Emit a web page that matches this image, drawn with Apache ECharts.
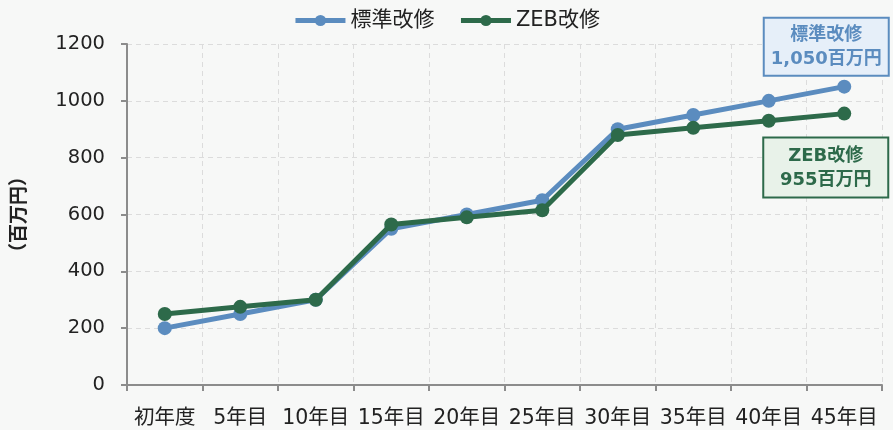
<!DOCTYPE html>
<html><head><meta charset="utf-8">
<script src="https://cdn.jsdelivr.net/npm/echarts@6/dist/echarts.min.js"></script>
<style>html,body{margin:0;padding:0;background:#f7f8f7}#c{width:893px;height:430px}</style>
</head><body><div id="c"></div>
<script>
const categories = ['初年度','5年目','10年目','15年目','20年目','25年目','30年目','35年目','40年目','45年目'];
const standard = [200, 250, 300, 550, 600, 650, 900, 950, 1000, 1050];
const zeb = [250, 275, 300, 565, 590, 615, 880, 905, 930, 955];
const yTicks = [0, 200, 400, 600, 800, 1000, 1200];
const seriesNames = ['標準改修', 'ZEB改修'];
const endNotes = ['標準改修\n1,050百万円', 'ZEB改修\n955百万円'];
const yAxisName = '（百万円）';

const BLUE = '#5b8cbf', GREEN = '#2d6a4a';
const FONT = 'DejaVu Sans, Noto Sans CJK JP, sans-serif';
const chart = echarts.init(document.getElementById('c'));

function withEndLabel(data, cfg) {
  return data.map((v, i) => i === data.length - 1 ? {value: v, label: cfg} : v);
}

chart.setOption({
  backgroundColor: '#f7f8f7',
  animation: false,
  legend: {
    top: 5, left: 'center', itemWidth: 50, itemHeight: 14, itemGap: 24,
    textStyle: {fontSize: 21, color: '#222', fontFamily: FONT},
    lineStyle: {width: 5},
    data: seriesNames
  },
  grid: {left: 127, right: 11, top: 44, bottom: 45},
  xAxis: {
    type: 'category', data: categories, boundaryGap: true,
    axisLine: {lineStyle: {color: '#8c8c8c', width: 2}},
    axisTick: {show: true, length: 6, lineStyle: {color: '#8c8c8c', width: 2}},
    axisLabel: {fontSize: 20.5, color: '#222', margin: 23, fontFamily: FONT, interval: 0},
    splitLine: {show: true, interval: 0, lineStyle: {color: '#dcdcdc', type: [5, 4]}}
  },
  yAxis: {
    type: 'value', min: yTicks[0], max: yTicks[yTicks.length - 1], interval: 200,
    name: yAxisName, nameLocation: 'middle', nameGap: 97, nameRotate: 90,
    nameTextStyle: {fontSize: 19, fontWeight: 'bold', color: '#222', fontFamily: FONT},
    axisLine: {show: true, lineStyle: {color: '#8c8c8c', width: 2}},
    axisTick: {show: true, length: 6, lineStyle: {color: '#8c8c8c', width: 2}},
    axisLabel: {fontSize: 19.5, color: '#222', margin: 22, fontFamily: FONT, formatter: v => String(v)},
    splitLine: {show: true, lineStyle: {color: '#dcdcdc', type: [5, 4]}}
  },
  series: [
    {
      name: seriesNames[0], type: 'line', symbol: 'circle', symbolSize: 14,
      lineStyle: {width: 5, color: BLUE}, itemStyle: {color: BLUE}, z: 2,
      data: withEndLabel(standard, {
        show: true, position: 'top', distance: 5, offset: [-18, 0],
        formatter: endNotes[0], fontSize: 18, fontWeight: 'bold', color: BLUE,
        lineHeight: 24, fontFamily: FONT, align: 'center',
        backgroundColor: '#e6eff9', borderColor: BLUE, borderWidth: 2,
        padding: [5, 3, 3, 3], width: 117
      })
    },
    {
      name: seriesNames[1], type: 'line', symbol: 'circle', symbolSize: 14,
      lineStyle: {width: 5, color: GREEN}, itemStyle: {color: GREEN}, z: 3,
      data: withEndLabel(zeb, {
        show: true, position: 'bottom', distance: 18, offset: [-18.5, 0],
        formatter: endNotes[1], fontSize: 18, fontWeight: 'bold', color: GREEN,
        lineHeight: 24, fontFamily: FONT, align: 'center',
        backgroundColor: '#e8f2e9', borderColor: GREEN, borderWidth: 2,
        padding: [6, 3, 4, 3], width: 117
      })
    }
  ]
});
</script></body></html>
